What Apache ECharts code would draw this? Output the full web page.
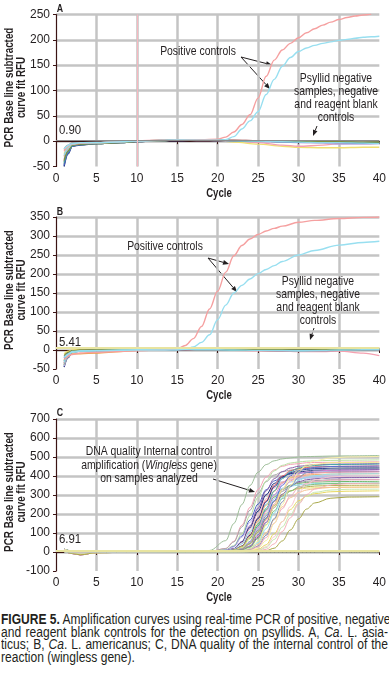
<!DOCTYPE html>
<html>
<head>
<meta charset="utf-8">
<script src="https://cdn.jsdelivr.net/npm/echarts@6/dist/echarts.min.js"></script>
<style>
html, body { margin: 0; padding: 0; background: #fff; overflow: hidden; }
#chart { position: absolute; left: 0; top: 0; width: 389px; height: 610px; }
#caption { position: absolute; left: 1px; top: 613px; width: 450px; color: #231f20;
  font-family: 'Liberation Sans', Arial, sans-serif; font-size: 14px; line-height: 12.6px;
  transform: scaleX(0.86); transform-origin: 0 0; }
#caption div { white-space: nowrap; text-align: justify; text-align-last: justify; }
#caption div.last { text-align-last: left; }
</style>
</head>
<body>
<div id="chart"></div>
<div id="caption">
  <div><b>FIGURE 5.</b> Amplification curves using real-time PCR of positive, negative,</div>
  <div>and reagent blank controls for the detection on psyllids. A, <i>Ca</i>. L. asia-</div>
  <div>ticus; B, <i>Ca</i>. L. americanus; C, DNA quality of the internal control of the</div>
  <div class="last">reaction (wingless gene).</div>
</div>
<script>
var FONT = "'Liberation Sans', Arial, sans-serif";
var INK = '#231f20';

// ---- panel A : Ca. L. asiaticus ----
var cyclesPosA = [1, 2, 3, 5, 10, 15, 18, 20, 21, 22, 23, 24, 25, 26, 27, 28, 29, 30, 31, 32, 33, 34, 35, 36, 37, 38, 39, 40];
var pinkA = [-18, -6, -4, -3, 0, 2, 3, 4, 8, 18, 33, 52, 85, 128, 160, 180, 193, 204, 214, 222, 229, 235, 240, 244, 247, 249, 251];
var cyanA = [-15, -5, -3, -3, 0, 2, 2, 2, 3, 9, 24, 40, 58, 92, 122, 148, 165, 177, 184, 189, 193, 196, 199, 201, 203, 205, 206, 207];
var cyclesNeg = [1, 1.5, 2, 3, 5, 8, 10, 13, 15, 18, 20, 22, 25, 28, 30, 33, 35, 38, 40];
var negA = [
    [-50, -25, -10, -8, -5, -3, -1, 1, 2, 2, 2, 1, 1, 0, -1, -2, -2, -3, -3],
    [-45, -22, -9, -7, -5, -3, 0, 1, 2, 2, 2, 1, 0, 0, -1, -1, -2, -2, -2],
    [-40, -20, -8, -6, -4, -2, 0, 2, 3, 3, 2, 2, 1, 0, -1, -2, -3, -3, -4],
    [-30, -15, -6, -5, -4, -2, 0, 2, 3, 3, 2, 1, 0, -1, -1, -2, -2, -3, -3],
    [-25, -12, -5, -5, -3, -2, 0, 1, 2, 2, 1, -2, -6, -10, -12, -13, -13, -12, -12],
    [-20, -10, -4, -4, -3, -1, 1, 2, 3, 3, 2, 1, -3, -8, -10, -8, -5, -4, -3],
    [-35, -18, -8, -6, -4, -2, 0, 1, 2, 1, 1, 0, -1, -2, -3, -4, -6, -6, -5],
    [-48, -24, -10, -7, -5, -3, -1, 1, 1, 2, 1, 1, 0, -1, -2, -2, -3, -4, -4],
    [-15, -8, -3, -3, -2, -1, 0, 1, 2, 2, 2, 2, 1, 1, 0, 0, -1, -1, -2],
    [-42, -21, -9, -6, -4, -2, 0, 1, 2, 2, 2, 1, 0, -1, -1, -2, -2, -3, -3],
    [-38, -19, -8, -6, -5, -3, -1, 1, 2, 2, 2, 1, 1, 0, 0, -1, -1, -2, -2],
    [-28, -14, -6, -4, -3, -2, 0, 2, 3, 3, 2, 1, 0, -1, -2, -3, -3, -4, -5]
];
var negColors = ['#1f2f7a', '#5aa85a', '#e05050', '#f0a050', '#f0e070', '#f4a0b0',
                 '#b8a8e0', '#4a60c0', '#a0a0a0', '#40a0a0', '#809040', '#90d8e8'];

// ---- panel B : Ca. L. americanus ----
var cyclesPosB = [1, 2, 3, 5, 10, 13, 15, 16, 17, 18, 19, 20, 21, 22, 23, 24, 25, 26, 27, 28, 30, 32, 35, 38, 40];
var pinkB = [-25, -12, -8, -6, -2, 0, 3, 12, 30, 62, 108, 155, 205, 248, 275, 292, 304, 313, 320, 326, 336, 341, 346, 349, 350];
var cyanB = [-20, -6, -3, -2, 0, 0, 0, 2, 8, 20, 40, 80, 118, 150, 170, 187, 201, 212, 222, 233, 250, 262, 276, 283, 286];
var negB = [
    [-45, -20, -6, -3, -2, -1, 0, 1, 1, 1, 1, 0, 0, -1, -2, -1, 0, 0, 1],
    [-40, -18, -5, -3, -1, 0, 1, 2, 2, 1, 1, 0, -1, -2, -2, -1, 0, 1, 2],
    [-35, -15, -4, -2, -1, 0, 1, 2, 2, 1, 0, 0, -1, -2, -3, -2, -1, 0, 1],
    [-25, -15, -10, -10, -8, -4, -1, 1, 2, 2, 1, 0, 0, -1, -2, -1, 0, 1, 2],
    [-10, -3, 0, 2, 3, 4, 4, 4, 4, 4, 4, 4, 4, 4, 4, 4, 4, 5, 5],
    [-30, -12, -4, -2, -1, 0, 0, 1, 1, 0, 0, -1, -2, -3, -4, -4, -3, -8, -15],
    [-42, -19, -5, -3, -2, -1, 0, 1, 1, 1, 0, 0, -1, -2, -2, -2, -1, 0, 0],
    [-20, -8, -2, -1, 0, 1, 2, 2, 3, 2, 2, 1, 1, 0, 0, 1, 2, 3, 4],
    [-38, -17, -5, -3, -2, -1, 0, 1, 1, 0, 0, -1, -1, -2, -3, -2, -1, 0, 0],
    [-28, -11, -3, -2, -1, 0, 1, 1, 2, 1, 1, 0, 0, -1, -1, 0, 1, 1, 2],
    [-15, -6, -2, 0, 1, 1, 2, 2, 2, 2, 2, 1, 1, 1, 0, 1, 1, 2, 3],
    [-33, -14, -4, -2, -1, 0, 1, 1, 2, 1, 1, 0, -1, -1, -2, -1, 0, 1, 1]
];

// ---- panel C : wingless internal control ----
var cyclesC = [1, 2, 3, 5, 10, 15, 19, 21, 22, 23, 24, 25, 26, 27, 28, 29, 30, 31, 32, 34, 36, 40];
var curvesC = [
    [12, 2, -3, 0, 2, 1, 8, 60, 150, 250, 350, 420, 460, 480, 490, 495, 500, 502, 503, 505, 506, 508],
    [5, -8, -15, -3, 1, 0, 2, 19, 56, 141, 235, 329, 395, 432, 451, 461, 465, 470, 471, 472, 473, 475],
    [15, 5, -2, 1, 2, 0, 2, 18, 53, 132, 220, 308, 370, 405, 422, 431, 436, 440, 441, 442, 443, 444],
    [8, -3, -8, -2, 1, -1, 1, 12, 34, 96, 192, 288, 374, 427, 456, 468, 474, 478, 480, 482, 483, 485],
    [3, -5, -12, -4, 0, 0, 1, 10, 29, 84, 168, 252, 328, 374, 399, 410, 415, 418, 420, 421, 422, 423],
    [10, 0, -5, -1, 2, 1, 1, 10, 27, 78, 156, 234, 304, 347, 370, 380, 385, 388, 390, 391, 392, 393],
    [12, 2, -3, 0, 2, 1, 0, 7, 18, 55, 138, 230, 322, 386, 423, 442, 451, 455, 460, 462, 463, 465],
    [15, 5, -2, 1, 2, 0, 0, 6, 17, 52, 129, 215, 301, 361, 396, 413, 421, 426, 430, 431, 432, 434],
    [5, -8, -15, -3, 1, 0, 0, 6, 16, 48, 120, 200, 280, 336, 368, 384, 392, 396, 400, 401, 402, 403],
    [8, -3, -8, -2, 1, -1, 0, 5, 14, 43, 108, 180, 252, 302, 331, 346, 353, 356, 360, 361, 362, 363],
    [10, 0, -5, -1, 2, 1, 0, 4, 11, 32, 90, 180, 270, 351, 400, 428, 439, 445, 448, 450, 451, 453],
    [15, 5, -2, 1, 2, 0, 0, 4, 11, 31, 88, 176, 264, 343, 392, 418, 429, 435, 438, 440, 441, 442],
    [3, -5, -12, -4, 0, 0, 0, 3, 10, 29, 82, 164, 246, 320, 365, 390, 400, 405, 408, 410, 411, 412],
    [12, 2, -3, 0, 2, 1, 0, 3, 9, 26, 74, 148, 222, 289, 329, 352, 361, 366, 368, 370, 371, 372],
    [8, -3, -8, -2, 1, -1, 0, 3, 9, 24, 68, 136, 204, 265, 303, 323, 332, 336, 338, 340, 341, 342],
    [10, 0, -5, -1, 2, 1, 0, 2, 7, 18, 55, 138, 230, 322, 386, 423, 442, 451, 455, 460, 461, 463],
    [5, -8, -15, -3, 1, 0, 0, 2, 6, 17, 52, 129, 215, 301, 361, 396, 413, 421, 426, 430, 431, 432],
    [15, 5, -2, 1, 2, 0, 0, 2, 6, 16, 48, 120, 200, 280, 336, 368, 384, 392, 396, 400, 401, 402],
    [3, -5, -12, -4, 0, 0, 0, 2, 6, 15, 46, 114, 190, 266, 319, 350, 365, 372, 376, 380, 381, 382],
    [12, 2, -3, 0, 2, 1, 0, 2, 5, 14, 42, 105, 175, 245, 294, 322, 336, 343, 347, 350, 351, 352],
    [8, -3, -8, -2, 1, -1, 0, 1, 4, 11, 32, 90, 180, 270, 351, 400, 428, 439, 445, 450, 451, 452],
    [10, 0, -5, -1, 2, 1, 0, 1, 3, 10, 29, 84, 168, 252, 328, 374, 399, 410, 415, 420, 421, 422],
    [5, -8, -15, -3, 1, 0, 0, 1, 3, 10, 27, 78, 156, 234, 304, 347, 370, 380, 385, 390, 391, 392],
    [15, 5, -2, 1, 2, 0, 0, 1, 3, 9, 25, 72, 144, 216, 281, 320, 342, 351, 356, 360, 361, 362],
    [3, -5, -12, -4, 0, 0, 0, 0, 2, 7, 19, 56, 141, 235, 329, 395, 432, 451, 461, 470, 471, 472],
    [12, 2, -3, 0, 2, 1, 0, 0, 2, 6, 16, 49, 123, 205, 287, 344, 377, 394, 402, 410, 411, 412],
    [8, -3, -8, -2, 1, -1, 0, 0, 2, 5, 14, 41, 102, 170, 238, 286, 313, 326, 333, 340, 341, 342],
    [10, 0, -5, -1, 2, 1, 0, 0, 1, 4, 11, 31, 88, 176, 264, 343, 392, 418, 429, 438, 440, 441],
    [5, -8, -15, -3, 1, 0, 0, 0, 1, 3, 10, 27, 76, 152, 228, 296, 338, 361, 371, 378, 380, 381],
    [15, 5, -2, 1, 2, 0, 0, 0, 0, 3, 8, 20, 60, 150, 250, 350, 420, 460, 480, 495, 500, 503],
    [3, -5, -12, -4, 0, 0, 0, 0, 0, 2, 5, 13, 38, 96, 160, 224, 269, 294, 307, 317, 320, 322],
    [12, 2, -3, 0, 2, 1, 0, 0, 0, 1, 3, 10, 28, 80, 160, 240, 312, 356, 380, 395, 400, 402],
    [8, -3, -8, -2, 1, -1, 0, 0, 0, 1, 3, 8, 23, 66, 132, 198, 257, 294, 314, 326, 330, 331],
    [10, 0, -5, -1, 2, 1, 0, 0, 0, 0, 2, 5, 14, 43, 108, 180, 252, 302, 331, 353, 360, 362],
    [5, -8, -15, -3, 1, 0, 0, 0, 0, 0, 1, 2, 7, 20, 58, 116, 174, 226, 258, 283, 289, 291],
    [2, 2, 2, 2, 2, 1, 1, 1, 1, 1, 1, 1, 1, 1, 1, 1, 1, 1, 1, 1, 1, 1],
    [-3, -4, -4, -3, -2, -1, -1, -1, -1, -1, -1, -1, -1, -1, -1, -1, -1, -1, -1, -1, -1, -1]
];
var colorsC = ['#9fbf9a', '#f5a3b5', '#a9a9a9', '#b8e0a0', '#4a5fc1', '#c2b5e8', '#8a5fa8', '#1f2f7a',
               '#f7b2c4', '#88d8e8', '#e06060', '#2c3e90', '#f2b070', '#6cba6c', '#f0e27a', '#4aa8a8',
               '#d585d5', '#a8c8f0', '#9a9a9a', '#b0b050', '#5a70d0', '#f4a0a0', '#7d5aa0', '#80c080',
               '#f3ea90', '#90e0f0', '#f5c090', '#8090b0', '#f0a8c0', '#f8f0a8', '#e8d860', '#f8c8d0',
               '#c8e8b0', '#f6b0b8', '#a8a848', '#70c070', '#c0c8c0'];

var thresholds = [0.90, 5.41, 6.91];
var yMin = [-50, -50, -100];
var yMax = [250, 350, 700];
var yStep = [50, 50, 100];

function pairs(xs, ys) {
    return ys.map(function (y, i) { return [xs[i], y]; });
}

function curve(idx, xs, ys, color, width) {
    return {
        type: 'line', xAxisIndex: idx, yAxisIndex: idx,
        data: pairs(xs, ys), showSymbol: false, silent: true,
        smooth: 0.35, smoothMonotone: 'x',
        lineStyle: { color: color, width: width }
    };
}

function arrow(x1, y1, x2, y2) {
    var a = Math.atan2(y2 - y1, x2 - x1), L = 6, W = 2.4;
    var bx = x2 - L * Math.cos(a), by = y2 - L * Math.sin(a);
    var px = -Math.sin(a) * W, py = Math.cos(a) * W;
    return [
        { type: 'line', shape: { x1: x1, y1: y1, x2: bx, y2: by }, style: { stroke: INK, lineWidth: 1 } },
        { type: 'polygon', shape: { points: [[x2, y2], [bx + px, by + py], [bx - px, by - py]] }, style: { fill: INK } }
    ];
}

// condensed text: the figure uses a narrow face, so squeeze a regular one
function label(x, y, text, extra, el) {
    var s = { text: text, fill: INK, font: '13px ' + FONT, align: 'center', verticalAlign: 'top', lineHeight: 13 };
    for (var k in extra) s[k] = extra[k];
    var g = { type: 'text', x: x, y: y, scaleX: 0.8, style: s, z: 50 };
    for (var j in el) g[j] = el[j];
    return g;
}

var tops = [14.5, 217, 419];
var grids = [], xAxes = [], yAxes = [], series = [];
for (var p = 0; p < 3; p++) {
    grids.push({ left: 56, top: tops[p], width: 326, height: 152 });
    xAxes.push({
        gridIndex: p, type: 'value', min: 0, max: 40, interval: 5,
        axisLine: { lineStyle: { color: '#3b1414', width: 1.2 } },
        axisTick: { length: 3, lineStyle: { color: '#3b1414' } },
        axisLabel: { fontFamily: FONT, fontSize: 12, color: INK, margin: 6 },
        splitLine: { show: true, showMinLine: false, showMaxLine: false, lineStyle: { color: '#c4c4c4', width: 2.5 } }
    });
    yAxes.push({
        gridIndex: p, type: 'value', min: yMin[p], max: yMax[p], interval: yStep[p],
        axisLine: { show: true, lineStyle: { color: '#3b1414', width: 1.2 } },
        axisTick: { show: true, length: 3, lineStyle: { color: '#3b1414' } },
        axisLabel: { fontFamily: FONT, fontSize: 12, color: INK, margin: 6 },
        splitLine: { show: true, showMinLine: false, lineStyle: { color: '#c4c4c4', width: 2.5 } }
    });
    // threshold line
    series.push({
        type: 'line', xAxisIndex: p, yAxisIndex: p, data: [], silent: true,
        markLine: {
            symbol: 'none', silent: true, animation: false,
            lineStyle: { color: p === 0 ? '#8c8c8c' : '#e8e4a0', width: p === 0 ? 1 : 2, type: 'solid' },
            label: { show: false },
            data: [{ yAxis: thresholds[p] }]
        }
    });
}

// panel A
series.push({
    type: 'line', xAxisIndex: 0, yAxisIndex: 0, data: [], silent: true,
    markLine: { symbol: 'none', silent: true, label: { show: false },
                lineStyle: { color: '#f6b8c0', width: 1, type: 'solid' }, data: [{ xAxis: 10 }] }
});
negA.forEach(function (ys, i) { series.push(curve(0, cyclesNeg, ys, negColors[i], 1.3)); });
series.push(curve(0, cyclesPosA, pinkA, '#f5a0a0', 1.4));
series.push(curve(0, cyclesPosA, cyanA, '#98dff0', 1.4));

// panel B
negB.forEach(function (ys, i) { series.push(curve(1, cyclesNeg, ys, negColors[i], 1.3)); });
series.push(curve(1, cyclesPosB, pinkB, '#f5a0a0', 1.4));
series.push(curve(1, cyclesPosB, cyanB, '#98dff0', 1.4));

// panel C
curvesC.forEach(function (ys, i) { series.push(curve(2, cyclesC, ys, colorsC[i], 1)); });

var graphics = [];
['A', 'B', 'C'].forEach(function (t, i) {
    graphics.push(label(60, [2, 205, 406][i], t, { font: 'bold 11px ' + FONT }));
    // axis titles
    graphics.push(label(219, [187, 389, 591][i], 'Cycle', { font: 'bold 12px ' + FONT }));
    graphics.push(label(15.5, tops[i] + 73, 'PCR Base line subtracted\ncurve fit RFU',
        { font: 'bold 12px ' + FONT, lineHeight: 11.5, verticalAlign: 'middle' },
        { rotation: Math.PI / 2, scaleX: 0.82 }));
    graphics.push(label(59, [131, 342.5, 540][i], thresholds[i].toFixed(2),
        { font: '12px ' + FONT, align: 'left', verticalAlign: 'middle' }, { scaleX: 0.95 }));
});

graphics.push(label(198, 45, 'Positive controls'));
graphics = graphics.concat(arrow(241, 57, 272, 65), arrow(241, 57, 270, 89));
graphics.push(label(336, 72, 'Psyllid negative\nsamples, negative\nand reagent blank\ncontrols'));
graphics = graphics.concat(arrow(317, 126, 313, 136));

graphics.push(label(165, 240, 'Positive controls'));
graphics = graphics.concat(arrow(208, 258, 229, 264), arrow(208, 258, 237, 292));
graphics.push(label(318, 275, 'Psyllid negative\nsamples, negative\nand reagent blank\ncontrols'));
graphics = graphics.concat(arrow(314, 328, 310, 340));

graphics.push(label(149, 445, 'DNA quality Internal control\namplification ({i|Wingless} gene)\non samples analyzed',
    { lineHeight: 13.5, rich: { i: { fontStyle: 'italic', fontFamily: FONT, fontSize: 13, fill: INK } } }));
graphics = graphics.concat(arrow(213, 479, 255, 492));

var myChart = echarts.init(document.getElementById('chart'));
var option = {
    animation: false,
    backgroundColor: '#fff',
    grid: grids,
    xAxis: xAxes,
    yAxis: yAxes,
    series: series,
    graphic: graphics
};
myChart.setOption(option);
</script>
</body>
</html>
